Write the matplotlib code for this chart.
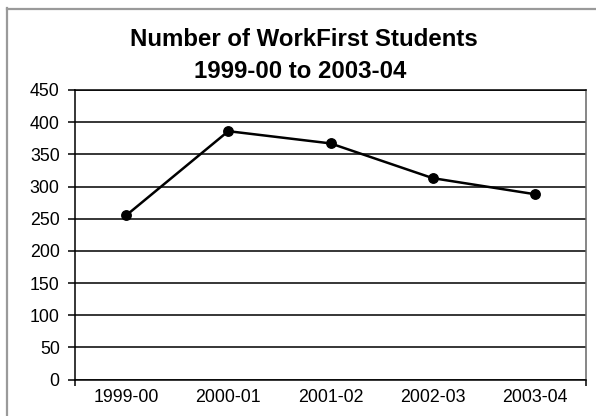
import matplotlib
matplotlib.use("Agg")
import matplotlib.pyplot as plt
from matplotlib.lines import Line2D

plt.rcParams['font.family'] = ['Liberation Sans', 'DejaVu Sans']

# Data
years = ["1999-00", "2000-01", "2001-02", "2002-03", "2003-04"]
students = [255, 386, 367, 313, 288]
y_ticks = [0, 50, 100, 150, 200, 250, 300, 350, 400, 450]

W, H = 596, 416
fig = plt.figure(figsize=(W / 100, H / 100), dpi=100)

# Plot area in pixel terms
left, right, top, bottom = 75, 586, 90, 379.5
ax = fig.add_axes([left / W, (H - bottom) / H, (right - left) / W, (bottom - top) / H])

x = list(range(len(years)))
ax.plot(x, students, color="black", linewidth=1.8, marker="o",
        markersize=6.8, markerfacecolor="black", markeredgecolor="black",
        zorder=3)

ax.set_xlim(-0.5, len(years) - 0.5)
ax.set_ylim(0, 450)

# Horizontal gridlines
ax.set_yticks(y_ticks)
ax.yaxis.grid(True, color="black", linewidth=1.1)
ax.set_axisbelow(True)
ax.tick_params(axis="y", direction="out", length=5, width=1.1, pad=6,
               labelsize=12.8, colors="black")

# Category labels sit between the boundary ticks at the axis ends
ax.set_xticks([-0.5, len(years) - 0.5])
ax.set_xticklabels([])
ax.set_xticks(x, minor=True)
ax.set_xticklabels(years, minor=True)
ax.tick_params(axis="x", which="major", direction="out", length=4, width=1.1)
ax.tick_params(axis="x", which="minor", length=0, pad=7, labelsize=12.8)

for side in ("left", "bottom", "top"):
    ax.spines[side].set_color("black")
    ax.spines[side].set_linewidth(1.1)
ax.spines["right"].set_color("#666666")
ax.spines["right"].set_linewidth(1.1)

# Chart title
fig.text(304 / W, 1 - 40 / H, "Number of WorkFirst Students", ha="center",
         va="center", fontsize=17.3, fontweight="bold")
fig.text(300 / W, 1 - 72 / H, "1999-00 to 2003-04", ha="center",
         va="center", fontsize=17.3, fontweight="bold")

# Chart frame (left and top edges)
fig.add_artist(Line2D([7.5 / W, 7.5 / W], [1 - 8 / H, 0], transform=fig.transFigure,
                      color="#9a9a9a", linewidth=1.6))
fig.add_artist(Line2D([7 / W, 1], [1 - 8.5 / H, 1 - 8.5 / H], transform=fig.transFigure,
                      color="#9a9a9a", linewidth=1.6))

fig.savefig("out.png", dpi=100, facecolor="white")
